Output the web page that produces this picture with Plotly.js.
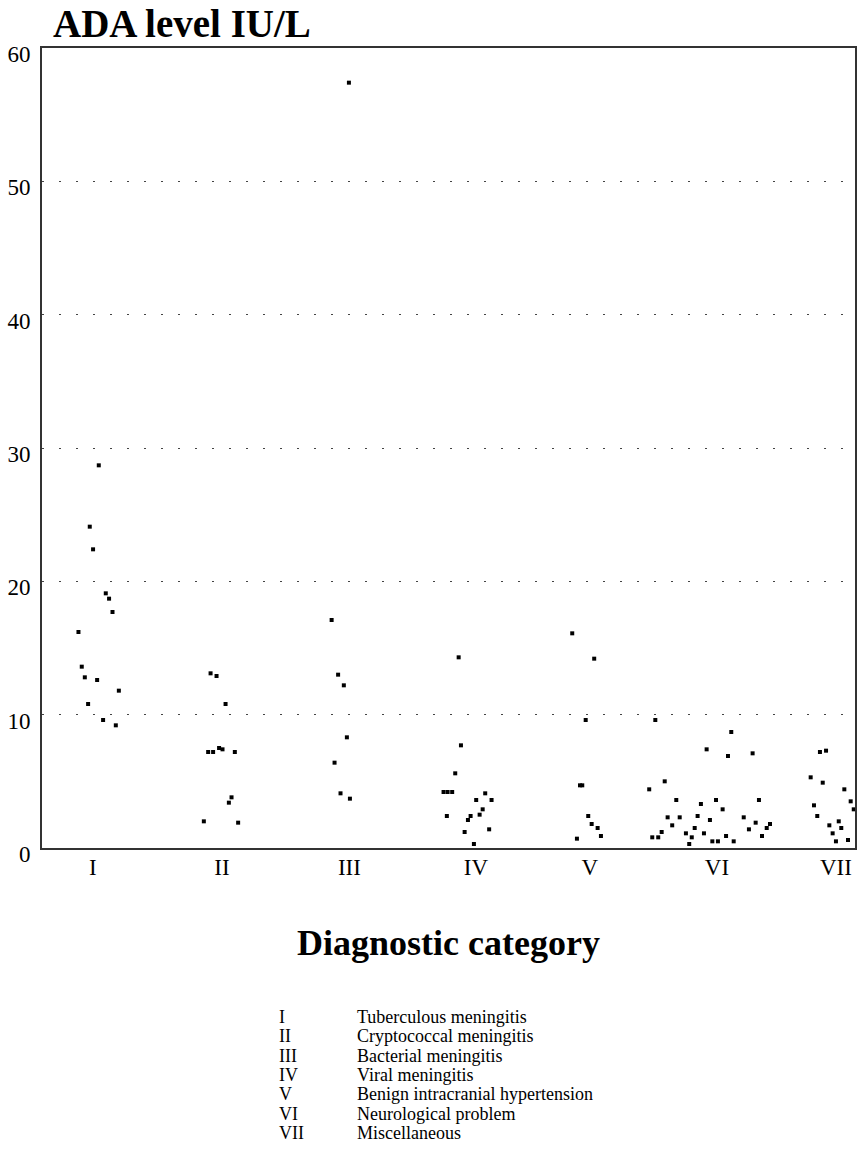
<!DOCTYPE html>
<html>
<head>
<meta charset="utf-8">
<script src="https://cdn.plot.ly/plotly-3.0.1.min.js"></script>
<style>html,body{margin:0;padding:0;background:#fff;}#chart{width:858px;height:1149px;}</style>
</head>
<body>
<div id="chart"></div>
<script>
// Category tick labels and names
const catLabels = ["I", "II", "III", "IV", "V", "VI", "VII"];
const catNames = ["Tuberculous meningitis", "Cryptococcal meningitis", "Bacterial meningitis",
  "Viral meningitis", "Benign intracranial hypertension", "Neurological problem", "Miscellaneous"];
const catPos = [1, 2.016, 3.02, 4.016, 4.913, 5.913, 6.85];
const yTicks = [0, 10, 20, 30, 40, 50, 60];

// Points: horizontal (jittered) position and ADA level (IU/L)
const xI = [1.047, 0.976, 1.002, 1.102, 1.128, 1.155, 0.887, 0.913, 0.937, 1.034, 1.205, 0.963, 1.081, 1.181];
const yI = [28.7, 24.1, 22.4, 19.1, 18.7, 17.7, 16.2, 13.6, 12.8, 12.6, 11.8, 10.8, 9.6, 9.2];

const xII = [1.927, 1.974, 2.045, 1.908, 1.947, 1.994, 2.021, 2.118, 2.092, 2.071, 1.874, 2.144];
const yII = [13.1, 12.9, 10.8, 7.2, 7.2, 7.5, 7.4, 7.2, 3.8, 3.4, 2.0, 1.9];

const xIII = [3.016, 2.880, 2.931, 2.976, 3.0, 2.903, 2.950, 3.024];
const yIII = [57.4, 17.1, 13.0, 12.2, 8.3, 6.4, 4.1, 3.7];

const xIV = [3.880, 3.898, 3.853, 3.761, 3.793, 3.829, 4.089, 4.018, 4.139, 4.069, 3.787, 3.974, 4.045, 3.953, 3.927, 4.120, 4.0];
const yIV = [14.3, 7.7, 5.6, 4.2, 4.2, 4.2, 4.1, 3.6, 3.6, 2.9, 2.4, 2.4, 2.5, 2.1, 1.2, 1.4, 0.3];

const xV = [4.774, 4.947, 4.880, 4.835, 4.853, 4.900, 4.927, 4.974, 5.0, 4.811];
const yV = [16.1, 14.2, 9.6, 4.7, 4.7, 2.4, 1.8, 1.5, 0.9, 0.7];

const xVI = [5.428, 6.026, 5.832, 6.0, 6.194, 5.502, 5.380, 5.593, 5.906, 6.244, 5.787, 5.958, 5.525, 5.620, 5.761, 5.858, 6.124, 5.561, 6.218, 5.738, 6.165, 5.478, 6.331, 6.305, 5.404, 5.451, 5.669, 5.811, 5.715, 5.985, 6.268, 5.877, 5.921, 6.045, 5.695];
const yVI = [9.6, 8.7, 7.4, 6.9, 7.1, 5.0, 4.4, 3.6, 3.6, 3.6, 3.3, 2.9, 2.3, 2.3, 2.4, 2.1, 2.3, 1.7, 1.9, 1.5, 1.4, 1.2, 1.8, 1.5, 0.8, 0.8, 1.1, 1.1, 0.8, 0.9, 0.9, 0.5, 0.5, 0.5, 0.3];

const xVII = [6.724, 6.772, 6.651, 6.746, 6.916, 6.966, 6.990, 6.677, 6.703, 6.872, 6.798, 6.892, 6.824, 6.850, 6.945];
const yVII = [7.2, 7.3, 5.3, 4.9, 4.4, 3.5, 2.9, 3.2, 2.4, 2.0, 1.7, 1.5, 1.1, 0.5, 0.6];

const groupsX = [xI, xII, xIII, xIV, xV, xVI, xVII];
const groupsY = [yI, yII, yIII, yIV, yV, yVI, yVII];

const serif = "Liberation Serif, Times New Roman, serif";

const traces = groupsX.map((gx, i) => ({
  type: "scatter",
  mode: "markers",
  x: gx,
  y: groupsY[i],
  name: catLabels[i],
  marker: {symbol: "square", size: 4, color: "#000"},
  cliponaxis: false,
  hoverinfo: "x+y"
}));

const plotTop = 48, plotBottom = 848, plotH = plotBottom - plotTop;
const py = (px) => (plotBottom - px) / plotH;

const annotations = [
  {text: "<b>ADA level IU/L</b>", xref: "paper", yref: "paper", x: (51 - 42) / 813, y: py(24),
   xanchor: "left", yanchor: "middle", showarrow: false,
   font: {family: serif, size: 39, color: "#000"}},
  {text: "<b>Diagnostic category</b>", xref: "paper", yref: "paper", x: (448 - 42) / 813, y: py(943),
   xanchor: "center", yanchor: "middle", showarrow: false,
   font: {family: serif, size: 36, color: "#000"}}
];
catLabels.forEach((lab, i) => {
  const yy = py(1017 + i * 19.3);
  annotations.push({text: lab, xref: "paper", yref: "paper", x: (277 - 42) / 813, y: yy,
    xanchor: "left", yanchor: "middle", showarrow: false,
    font: {family: serif, size: 18, color: "#000"}});
  annotations.push({text: catNames[i], xref: "paper", yref: "paper", x: (355 - 42) / 813, y: yy,
    xanchor: "left", yanchor: "middle", showarrow: false,
    font: {family: serif, size: 18, color: "#000"}});
});

const layout = {
  width: 858, height: 1149,
  margin: {l: 42, r: 3, t: plotTop, b: 1149 - plotBottom, pad: 0},
  paper_bgcolor: "#fff", plot_bgcolor: "#fff",
  showlegend: false,
  font: {family: serif, size: 22, color: "#000"},
  xaxis: {
    range: [0.6, 7.0], tickvals: catPos, ticktext: catLabels,
    showgrid: false, zeroline: false, showline: true, mirror: true,
    linecolor: "#333", linewidth: 2, ticks: "", ticklabelstandoff: -3,
    tickfont: {family: serif, size: 23, color: "#000"}
  },
  yaxis: {
    range: [0, 60], tickvals: yTicks,
    showgrid: true, gridcolor: "#444", gridwidth: 1, griddash: "2px,15px",
    zeroline: false, showline: true, mirror: true,
    linecolor: "#333", linewidth: 2, ticks: "", ticklabelstandoff: 5, ticklabelshift: 6,
    tickfont: {family: serif, size: 23, color: "#000"}
  },
  annotations: annotations
};

Plotly.newPlot("chart", traces, layout, {displayModeBar: false, staticPlot: true});
</script>
</body>
</html>
